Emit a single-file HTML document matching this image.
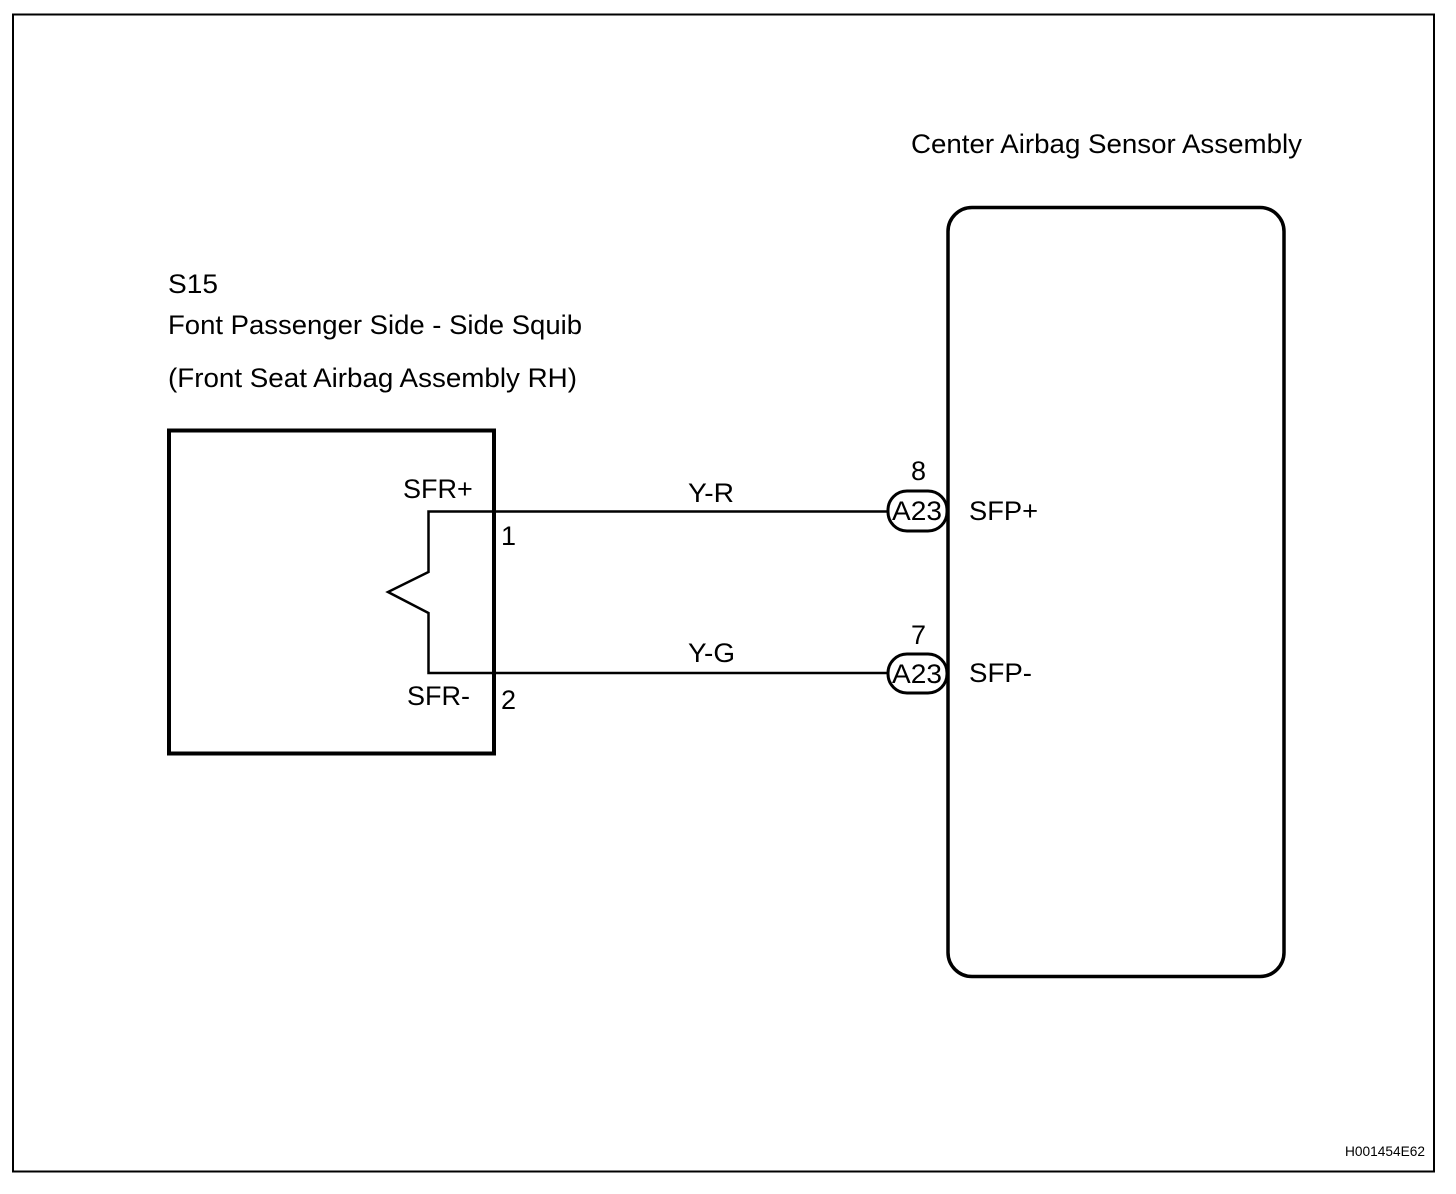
<!DOCTYPE html>
<html>
<head>
<meta charset="utf-8">
<style>
html,body{margin:0;padding:0;background:#fff;width:1456px;height:1194px;overflow:hidden}
svg{display:block}
text{font-family:"Liberation Sans",Arial,sans-serif;fill:#000;font-size:27px}
</style>
</head>
<body>
<svg width="1456" height="1194" viewBox="0 0 1456 1194" xmlns="http://www.w3.org/2000/svg">
<rect x="13" y="14.5" width="1421" height="1157" fill="none" stroke="#000" stroke-width="2"/>
<text x="911" y="153" textLength="391" lengthAdjust="spacingAndGlyphs">Center Airbag Sensor Assembly</text>
<rect x="948" y="207.500" width="336" height="769" rx="24" ry="24" fill="none" stroke="#000" stroke-width="3.500"/>
<text x="168" y="293" textLength="50" lengthAdjust="spacingAndGlyphs">S15</text>
<text x="168" y="334" textLength="414" lengthAdjust="spacingAndGlyphs">Font Passenger Side - Side Squib</text>
<text x="168" y="387" textLength="409" lengthAdjust="spacingAndGlyphs">(Front Seat Airbag Assembly RH)</text>
<rect x="169" y="430.500" width="325" height="323" fill="none" stroke="#000" stroke-width="4"/>
<polyline points="888,511.500 428.500,511.500 428.500,572 388,592 428.500,613 428.500,673 888,673" fill="none" stroke="#000" stroke-width="2.500"/>
<text x="403" y="498">SFR+</text>
<text x="407" y="705" textLength="63" lengthAdjust="spacingAndGlyphs">SFR-</text>
<text x="501" y="545">1</text>
<text x="501" y="709">2</text>
<text x="688" y="502" textLength="46" lengthAdjust="spacingAndGlyphs">Y-R</text>
<text x="688" y="662" textLength="47" lengthAdjust="spacingAndGlyphs">Y-G</text>
<text x="911" y="480">8</text>
<text x="911" y="644">7</text>
<rect x="888" y="491" width="59" height="40" rx="19" ry="19" fill="#fff" stroke="#000" stroke-width="3"/>
<rect x="888" y="654" width="59" height="39" rx="19" ry="19" fill="#fff" stroke="#000" stroke-width="3"/>
<text x="892" y="520" textLength="50" lengthAdjust="spacingAndGlyphs">A23</text>
<text x="892" y="683" textLength="50" lengthAdjust="spacingAndGlyphs">A23</text>
<text x="969" y="520" textLength="69" lengthAdjust="spacingAndGlyphs">SFP+</text>
<text x="969" y="682" textLength="63" lengthAdjust="spacingAndGlyphs">SFP-</text>
<text x="1345" y="1156" style="font-size:13.500px" textLength="80" lengthAdjust="spacingAndGlyphs">H001454E62</text>
</svg>
</body>
</html>
